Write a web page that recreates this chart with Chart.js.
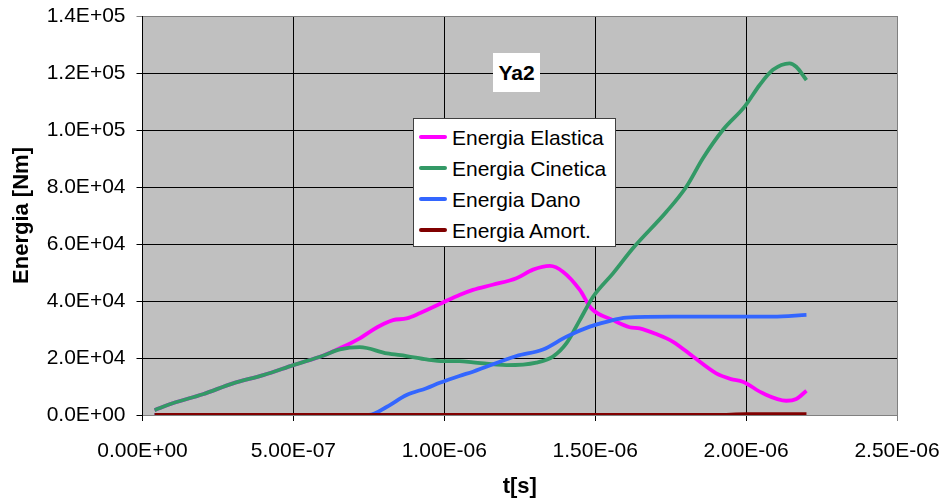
<!DOCTYPE html>
<html>
<head>
<meta charset="utf-8">
<script src="https://cdn.jsdelivr.net/npm/chart.js@4.4.1/dist/chart.umd.min.js"></script>
<style>
  html, body { margin: 0; padding: 0; background: #ffffff; }
  #wrap { position: relative; width: 945px; height: 503px; font-family: "Liberation Sans", Arial, sans-serif; }
  #c { position: absolute; left: 0; top: 0; }
  #ttl { position: absolute; left: 493px; top: 53px; width: 47px; height: 39px; background: #fff;
         font-weight: bold; font-size: 21px; line-height: 39px; text-align: center; color: #000; }
  #leg { position: absolute; left: 413px; top: 118px; width: 201px; height: 124px; background: #fff;
         border: 1px solid #404040; padding-top: 3px; box-sizing: content-box; }
  .row { position: relative; height: 31px; line-height: 31px; font-size: 21px; color: #000; white-space: nowrap; }
  .sw { position: absolute; left: 5px; top: 13px; width: 28px; height: 4px; border-radius: 2px; }
  .lab { position: absolute; left: 38px; top: 0; }
</style>
</head>
<body>
<div id="wrap">
  <canvas id="c" width="945" height="503"></canvas>
  <div id="ttl">Ya2</div>
  <div id="leg"></div>
</div>
<script>
// ---- data (time in seconds, energy in Nm) ----
const seriesNames = ["Energia Elastica", "Energia Cinetica", "Energia Dano", "Energia Amort."];
const seriesColors = ["#ff00ff", "#339966", "#3366ff", "#800000"];

const elasticT = [0.04e-6, 0.1e-6, 0.2e-6, 0.3e-6, 0.4e-6, 0.5e-6, 0.6e-6, 0.654e-6, 0.72e-6, 0.753e-6, 0.8e-6, 0.83e-6, 0.875e-6, 0.92e-6, 0.996e-6, 1.05e-6, 1.095e-6, 1.16e-6, 1.239e-6, 1.294e-6, 1.35e-6, 1.393e-6, 1.449e-6, 1.487e-6, 1.559e-6, 1.614e-6, 1.647e-6, 1.7e-6, 1.758e-6, 1.824e-6, 1.901e-6, 1.95e-6, 1.989e-6, 2.056e-6, 2.133e-6, 2.166e-6, 2.2e-6];
const elasticE = [1700, 4100, 7300, 11100, 14000, 17500, 20900, 23400, 26900, 29200, 32000, 33300, 33900, 35800, 39500, 42100, 43900, 45700, 48000, 51000, 52300, 50300, 43900, 37400, 33300, 30800, 30400, 28500, 25700, 20500, 14600, 12600, 11700, 7600, 5000, 5600, 8500];

const cineticT = [0.04e-6, 0.1e-6, 0.2e-6, 0.3e-6, 0.4e-6, 0.5e-6, 0.6e-6, 0.654e-6, 0.72e-6, 0.81e-6, 0.875e-6, 0.941e-6, 0.996e-6, 1.05e-6, 1.095e-6, 1.206e-6, 1.305e-6, 1.36e-6, 1.405e-6, 1.449e-6, 1.493e-6, 1.559e-6, 1.625e-6, 1.736e-6, 1.802e-6, 1.857e-6, 1.923e-6, 1.995e-6, 2.045e-6, 2.089e-6, 2.144e-6, 2.166e-6, 2.2e-6];
const cineticE = [1700, 4100, 7300, 11100, 14000, 17500, 20900, 23000, 23800, 21600, 20700, 19500, 18900, 18900, 18500, 17500, 18400, 20500, 25200, 33300, 41500, 49700, 58500, 71300, 80100, 90100, 100000, 108200, 115800, 121100, 123400, 122200, 117500];

const danoT = [0.04e-6, 0.5e-6, 0.75e-6, 0.81e-6, 0.875e-6, 0.941e-6, 0.985e-6, 1.05e-6, 1.095e-6, 1.239e-6, 1.327e-6, 1.405e-6, 1.482e-6, 1.537e-6, 1.603e-6, 1.758e-6, 2.089e-6, 2.2e-6];
const danoE = [0, 0, 0, 2900, 7000, 9400, 11300, 13700, 15200, 20700, 23000, 27500, 31000, 32700, 34200, 34500, 34500, 35100];

const amortT = [0.04e-6, 1.0e-6, 1.9e-6, 2.0e-6, 2.2e-6];
const amortE = [0, 0, 0, 300, 300];

const xTickMax = 2.5e-6, xTickStep = 0.5e-6;
const yTickMax = 1.4e5, yTickStep = 2e4;

// ---- helpers ----
function pts(ts, es) { return ts.map((t, i) => ({ x: t, y: es[i] })); }
function fmtExp(v, d) {
  const s = Number(v).toExponential(d);
  const [m, e] = s.split('e');
  const sign = e[0] === '-' ? '-' : '+';
  const digits = e.replace(/[+-]/, '').padStart(2, '0');
  return m + 'E' + sign + digits;
}
function noPad(s) { s.paddingTop = 0; s.paddingBottom = 0; s.paddingLeft = 0; s.paddingRight = 0; }

// legend (HTML)
const leg = document.getElementById('leg');
seriesNames.forEach((n, i) => {
  const r = document.createElement('div'); r.className = 'row';
  r.innerHTML = '<span class="sw" style="background:' + seriesColors[i] + '"></span><span class="lab">' + n + '</span>';
  leg.appendChild(r);
});

const bgPlugin = {
  id: 'bg',
  beforeDraw(chart) {
    const a = chart.chartArea, ctx = chart.ctx;
    ctx.save(); ctx.fillStyle = '#c0c0c0';
    ctx.fillRect(a.left, a.top, a.right - a.left, a.bottom - a.top);
    ctx.restore();
  }
};

const dsList = [
  [elasticT, elasticE], [cineticT, cineticE], [danoT, danoE], [amortT, amortE]
].map((p, i) => ({
  label: seriesNames[i],
  data: pts(p[0], p[1]),
  borderColor: seriesColors[i],
  backgroundColor: seriesColors[i],
  borderWidth: 3.8,
  pointRadius: 0,
  showLine: true,
  fill: false,
  cubicInterpolationMode: 'monotone',
  order: 4 - i
}));

const FONT = "'Liberation Sans', Arial, sans-serif";

new Chart(document.getElementById('c'), {
  type: 'scatter',
  data: { datasets: dsList },
  plugins: [bgPlugin],
  options: {
    responsive: false,
    animation: false,
    layout: { padding: { left: 0, right: 48, top: 16, bottom: 0 } },
    plugins: { legend: { display: false }, tooltip: { enabled: false }, title: { display: false } },
    scales: {
      x: {
        type: 'linear', min: 0, max: xTickMax,
        afterFit(s) { s.height = 88; noPad(s); },
        ticks: { stepSize: xTickStep, color: '#000', font: { family: FONT, size: 21 }, padding: 18,
                 maxRotation: 0, callback: v => fmtExp(v, 2) },
        grid: { color: c => (c.tick && Math.abs(c.tick.value - xTickMax) < 1e-12) ? '#808080' : '#000000',
                lineWidth: 1, tickLength: 6, drawTicks: true },
        border: { color: '#808080', width: 1 },
        title: { display: true, text: 't[s]', color: '#000', font: { family: FONT, size: 22, weight: 'bold' },
                 padding: { top: 0, bottom: 3 } }
      },
      y: {
        type: 'linear', min: 0, max: yTickMax,
        afterFit(s) { s.width = 142.5; noPad(s); },
        ticks: { stepSize: yTickStep, color: '#000', font: { family: FONT, size: 21 }, padding: 11,
                 callback: v => fmtExp(v, 1) },
        grid: { color: c => (c.tick && c.tick.value === yTickMax) ? '#808080' : '#000000',
                lineWidth: 1, tickLength: 6, drawTicks: true },
        border: { color: '#000000', width: 1 },
        title: { display: true, text: 'Energia [Nm]', color: '#000', font: { family: FONT, size: 22, weight: 'bold' },
                 padding: { top: 9, bottom: 0 } }
      }
    }
  }
});
</script>
</body>
</html>
